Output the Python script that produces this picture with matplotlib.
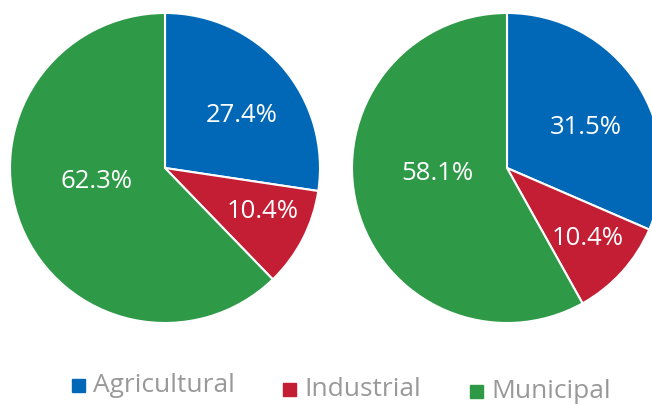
import numpy as np
import matplotlib.pyplot as plt

plt.rcParams['font.family'] = ['Open Sans', 'Noto Sans', 'DejaVu Sans']

categories = ['Agricultural', 'Industrial', 'Municipal']
left_values = [27.4, 10.4, 62.3]
right_values = [31.5, 10.4, 58.1]
colors = ['#0068b7', '#c41e34', '#2e9a47']

W, H = 652, 405
fig = plt.figure(figsize=(W / 100, H / 100), dpi=100)


def draw_pie(cx, cy, r, values, label_r, label_shift):
    ax = fig.add_axes([(cx - r) / W, (H - cy - r) / H, 2 * r / W, 2 * r / H])
    wedges, _ = ax.pie(values, colors=colors, startangle=90, counterclock=False,
                       wedgeprops=dict(edgecolor='white', linewidth=1.5), radius=1)
    for w, v, lr, sh in zip(wedges, values, label_r, label_shift):
        ang = np.deg2rad((w.theta1 + w.theta2) / 2 + sh)
        ax.text(lr * np.cos(ang), lr * np.sin(ang), f'{v:.1f}%', color='white',
                fontsize=18.5, ha='center', va='center')
    ax.set_xlim(-1, 1)
    ax.set_ylim(-1, 1)
    ax.set_aspect('equal')
    ax.axis('off')


draw_pie(165, 168, 155, left_values, [0.60, 0.69, 0.45], [-6, 3, -11])
draw_pie(507, 168, 155, right_values, [0.57, 0.69, 0.45], [-6, 1, -10])

# legend, items slightly staggered like the reference
leg_x = [72, 283, 470]
leg_y = [385, 389, 391]
for name, c, x, y in zip(categories, colors, leg_x, leg_y):
    fig.patches.append(plt.Rectangle((x / W, (H - y - 7) / H), 13 / W, 13 / H,
                                     color=c, transform=fig.transFigure, figure=fig))
    fig.text((x + 21) / W, (H - y) / H, name, color='#999999', fontsize=19,
             ha='left', va='center')

fig.savefig('out.png', dpi=100)
